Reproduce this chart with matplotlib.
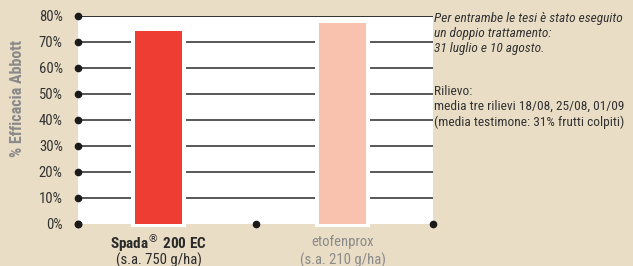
import matplotlib.pyplot as plt

plt.rcParams['font.family'] = ['Roboto Condensed', 'DejaVu Sans']

# data
categories = ['Spada', 'etofenprox']
sublabels = ['(s.a. 750 g/ha)', '(s.a. 210 g/ha)']
values = [74, 77]
bar_colors = ['#ee3d33', '#f9c2ae']
yticks = [0, 10, 20, 30, 40, 50, 60, 70, 80]
xpos = [0.455, 1.49]

bg = '#e9ddc5'
fig = plt.figure(figsize=(6.33, 2.66), dpi=100, facecolor=bg)
ax = fig.add_axes([78/633, 1 - 223.5/266, 355/633, 208/266])
ax.set_xlim(0, 2)
ax.set_ylim(0, 80)
ax.set_facecolor('white')
for s in ax.spines.values():
    s.set_visible(False)

# gridlines
for t in yticks[1:]:
    ax.axhline(t, color='#2a2a2a', lw=1.1, zorder=1)

# white gaps behind bars, then the bars
for x, v, c in zip(xpos, values, bar_colors):
    ax.bar(x, 80.2, bottom=-1.2, width=0.31, color='white', zorder=2, clip_on=False)
    ax.bar(x, v, width=0.265, color=c, zorder=3)
ax.axhline(80, color='#2a2a2a', lw=1.1, zorder=4)

# dots on axes
ax.plot([0] * len(yticks), yticks, 'o', color='#1a1a1a', ms=4.5, clip_on=False, zorder=5)
ax.plot([0, 1, 2], [0, 0, 0], 'o', color='#1a1a1a', ms=4.5, clip_on=False, zorder=5)

ax.set_xticks([])
ax.set_yticks(yticks)
ax.set_yticklabels(['%d%%' % t for t in yticks], fontsize=10.5, color='#333333')
ax.tick_params(axis='y', length=0, pad=11)
ax.set_ylabel('% Efficacia Abbott', fontsize=11.5, color='#8a8a8a', fontweight='bold')
ax.yaxis.set_label_coords(-0.148, 0.6)

# category labels
ax.text(xpos[0], -7.3, 'Spada$^{®}$ 200 EC', ha='center', va='center',
        fontsize=11, fontweight='bold', color='#2a2a2a')
ax.text(xpos[0], -14.0, sublabels[0], ha='center', va='center', fontsize=10.5,
        color='#2a2a2a')
ax.text(xpos[1], -7.3, categories[1], ha='center', va='center', fontsize=10.5,
        color='#8a8a8a')
ax.text(xpos[1], -14.0, sublabels[1], ha='center', va='center', fontsize=10.5,
        color='#8a8a8a')

# notes on the right
fig.text(434/633, 1 - 12/266, 'Per entrambe le tesi è stato eseguito\nun doppio trattamento:\n31 luglio e 10 agosto.',
         ha='left', va='top', fontsize=9.6, style='italic', color='#333333', linespacing=1.22)
fig.text(434/633, 1 - 85/266, 'Rilievo:\nmedia tre rilievi 18/08, 25/08, 01/09\n(media testimone: 31% frutti colpiti)',
         ha='left', va='top', fontsize=9.6, color='#333333', linespacing=1.22)

fig.savefig('out.png', dpi=100, facecolor=bg)
